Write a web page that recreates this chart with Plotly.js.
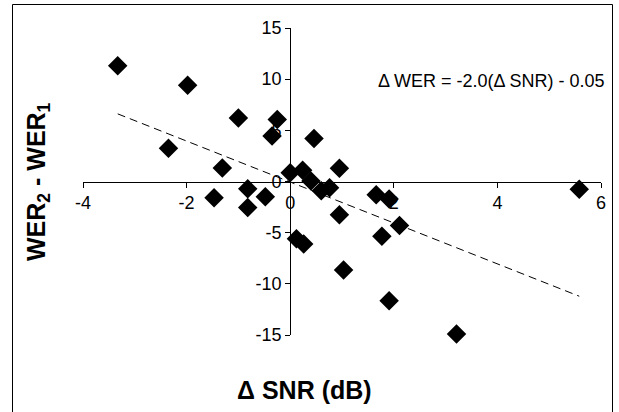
<!DOCTYPE html>
<html>
<head>
<meta charset="utf-8">
<script src="https://cdn.plot.ly/plotly-3.0.1.min.js"></script>
<style>
  html, body { margin: 0; padding: 0; background: #fff; }
  #chart { width: 619px; height: 412px; }
</style>
</head>
<body>
<div id="chart"></div>
<script>
// ---- data ----
const snrDiff = [-3.33, -1.98, -1.00, -0.25, -0.35, 0.46, -2.35, -1.31, 0.00, 0.24,
                 0.40, 0.60, 0.76, 0.95, 1.66, 1.91, 0.95, 2.11, 1.77, 0.12,
                 0.26, 1.03, 1.91, 3.21, 5.58, -0.82, -1.47, -0.48, -0.82];
const werDiff = [11.3, 9.4, 6.2, 6.05, 4.45, 4.2, 3.25, 1.33, 0.86, 1.1,
                 0.05, -0.9, -0.6, 1.3, -1.3, -1.7, -3.25, -4.3, -5.35, -5.6,
                 -6.1, -8.65, -11.65, -14.9, -0.75, -0.72, -1.6, -1.48, -2.55];
const trendSlope = -2.0;
const trendIntercept = -0.05;
const xTickVals = [-4, -2, 0, 2, 4, 6];
const xTickText = ['-4', '-2', '0', '2', '4', '6'];
const yTickVals = [-15, -10, -5, 0, 5, 10, 15];
const yTickText = ['-15', '-10', '-5', '0', '5', '10', '15'];
const equationText = '\u0394 WER = -2.0(\u0394 SNR) - 0.05';
const xTitle = '\u0394 SNR (dB)';
const yTitle = 'WER<sub>2</sub> - WER<sub>1</sub>';

// ---- layout geometry ----
const W = 619, H = 412;
const mL = 83, mR = 18, mT = 28, mB = 77;
const xRange = [-4, 6], yRange = [-15, 15];
const plotW = W - mL - mR, plotH = H - mT - mB;
const px2x = p => (p - mL) / plotW;
const px2y = p => (H - mB - p) / plotH;

const trendX = [Math.min(...snrDiff), Math.max(...snrDiff)];
const trendY = trendX.map(x => trendSlope * x + trendIntercept);

const font = 'Arial, "Liberation Sans", sans-serif';

const traces = [
  {
    x: trendX, y: trendY, type: 'scatter', mode: 'lines',
    line: { color: '#000', width: 1, dash: '8px,5px' },
    cliponaxis: false, hoverinfo: 'skip', showlegend: false
  },
  {
    x: snrDiff, y: werDiff, type: 'scatter', mode: 'markers',
    marker: { symbol: 'diamond', size: 15, color: '#000', line: { width: 0 } },
    cliponaxis: false, showlegend: false
  }
];

const layout = {
  width: W, height: H,
  margin: { l: mL, r: mR, t: mT, b: mB, pad: 0 },
  paper_bgcolor: '#fff', plot_bgcolor: 'rgba(0,0,0,0)',
  font: { family: font, color: '#000', size: 18 },
  showlegend: false,
  xaxis: {
    range: xRange, anchor: 'free',
    position: (0 - yRange[0]) / (yRange[1] - yRange[0]),
    tickvals: xTickVals, ticktext: xTickText,
    ticks: 'outside', ticklen: 5, tickwidth: 1, tickcolor: '#000',
    showline: true, linecolor: '#000', linewidth: 1,
    showgrid: false, zeroline: false,
    tickfont: { family: font, size: 18, color: '#000' }
  },
  yaxis: {
    range: yRange, anchor: 'free',
    position: (0 - xRange[0]) / (xRange[1] - xRange[0]),
    tickvals: yTickVals, ticktext: yTickText,
    ticks: 'outside', ticklen: 5, tickwidth: 1, tickcolor: '#000',
    showline: true, linecolor: '#000', linewidth: 1,
    showgrid: false, zeroline: false,
    tickfont: { family: font, size: 18, color: '#000' }
  },
  annotations: [
    {
      text: equationText, xref: 'paper', yref: 'paper',
      x: px2x(607), y: px2y(81), xanchor: 'right', yanchor: 'middle',
      showarrow: false, font: { family: font, size: 18, color: '#000' }
    },
    {
      text: '<b>' + xTitle + '</b>', xref: 'paper', yref: 'paper',
      x: px2x(304), y: px2y(390), xanchor: 'center', yanchor: 'middle',
      showarrow: false, font: { family: font, size: 25, color: '#000' }
    },
    {
      text: '<b>' + yTitle + '</b>', xref: 'paper', yref: 'paper',
      x: px2x(38), y: px2y(182), xanchor: 'center', yanchor: 'middle',
      textangle: -90,
      showarrow: false, font: { family: font, size: 25, color: '#000' }
    }
  ],
  shapes: [
    {
      type: 'rect', xref: 'paper', yref: 'paper',
      x0: px2x(12.5), x1: px2x(612.5), y0: px2y(430), y1: px2y(4.5),
      line: { color: '#000', width: 1 }, fillcolor: 'rgba(0,0,0,0)', layer: 'below'
    }
  ]
};

Plotly.newPlot('chart', traces, layout, { displayModeBar: false, staticPlot: true });
</script>
</body>
</html>
